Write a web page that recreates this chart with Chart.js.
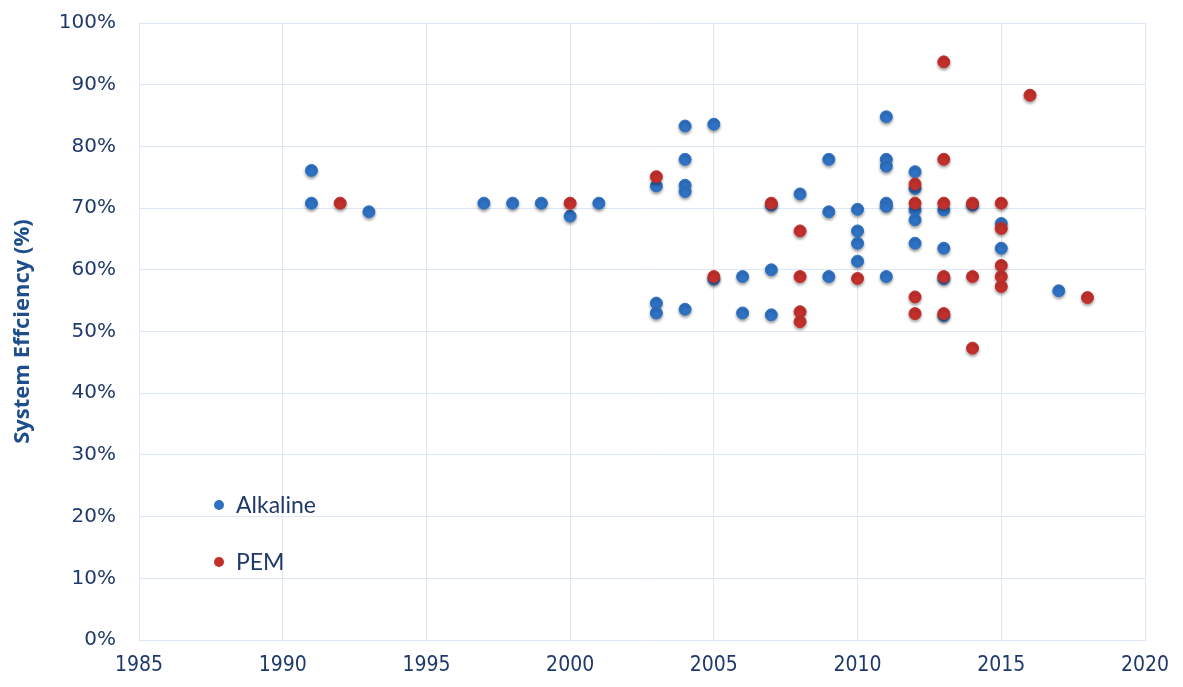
<!DOCTYPE html>
<html>

<head>
    <title>System Efficiency - Alkaline vs PEM</title>
    <script src="https://cdn.jsdelivr.net/npm/chart.js@4.4.2/dist/chart.umd.min.js"></script>
    <style>
        body {
            margin: 0;
            background: #ffffff;
        }

        .chartBox {
            width: 1183px;
            height: 687px;
        }
    </style>
</head>

<body>
    <div class="chartBox">
        <canvas id="efficiencyChart"></canvas>
    </div>
    <script>
        // dados (ano, eficiencia %)
        var alkalineYears = [1991, 1991, 1993, 1997, 1998, 1999, 2000, 2001,
            2003, 2003, 2003, 2004, 2004, 2004, 2004, 2004, 2005, 2005, 2006, 2006,
            2007, 2007, 2007, 2008, 2009, 2009, 2009, 2010, 2010, 2010, 2010,
            2011, 2011, 2011, 2011, 2011, 2011, 2012, 2012, 2012, 2012, 2012,
            2013, 2013, 2013, 2013, 2014, 2015, 2015, 2017];
        var alkalineEff = [76.1, 70.8, 69.4, 70.8, 70.8, 70.8, 68.7, 70.8,
            73.6, 54.6, 53.0, 83.3, 77.9, 73.7, 72.7, 53.6, 83.6, 58.5, 58.9, 53.0,
            70.5, 60.0, 52.7, 72.3, 77.9, 69.4, 58.9, 69.8, 66.3, 64.3, 61.4,
            84.8, 77.9, 76.8, 70.8, 70.3, 58.9, 75.9, 73.2, 69.7, 68.1, 64.3,
            69.7, 63.5, 58.6, 52.6, 70.5, 67.5, 63.5, 56.6];

        var pemYears = [1992, 2000, 2003, 2005, 2007, 2008, 2008, 2008, 2008, 2010,
            2012, 2012, 2012, 2012, 2013, 2013, 2013, 2013, 2013,
            2014, 2014, 2014, 2015, 2015, 2015, 2015, 2015, 2016, 2018];
        var pemEff = [70.8, 70.8, 75.1, 58.9, 70.8, 66.3, 58.9, 53.2, 51.6, 58.6,
            73.9, 70.8, 55.6, 52.9, 93.7, 77.9, 70.8, 58.9, 52.9,
            70.8, 58.9, 47.3, 70.8, 66.7, 60.7, 58.9, 57.3, 88.3, 55.5];

        var seriesNames = ["Alkaline", "PEM"];
        var seriesColors = ["#2F72C4", "#C3302C"];

        var textColor = "#1F3A6A";
        var gridColor = "#DCE7F3";

        function toPoints(xs, ys) {
            return xs.map(function (x, i) { return { x: x, y: ys[i] }; });
        }

        // sombra embaixo das bolinhas
        var pointShadow = {
            id: "pointShadow",
            beforeDatasetsDraw: function (chart) {
                var ctx = chart.ctx;
                ctx.save();
                ctx.shadowColor = "rgba(0,0,0,0.35)";
                ctx.shadowBlur = 3;
                ctx.shadowOffsetX = 0;
                ctx.shadowOffsetY = 2;
            },
            afterDatasetsDraw: function (chart) {
                chart.ctx.restore();
            }
        };

        // legenda dentro da area do grafico
        var insideLegend = {
            id: "insideLegend",
            afterDraw: function (chart) {
                var ctx = chart.ctx;
                var rows = [505, 562];
                ctx.save();
                seriesNames.forEach(function (name, i) {
                    ctx.beginPath();
                    ctx.fillStyle = seriesColors[i];
                    ctx.arc(219, rows[i], 5, 0, Math.PI * 2);
                    ctx.fill();
                    ctx.fillStyle = textColor;
                    ctx.font = "23px Lato, 'Open Sans', sans-serif";
                    ctx.textBaseline = "middle";
                    ctx.textAlign = "left";
                    ctx.fillText(name, 236, rows[i] + 1);
                });
                ctx.restore();
            }
        };

        var ctx = document.getElementById("efficiencyChart").getContext("2d");
        var efficiencyChart = new Chart(ctx, {
            type: "scatter",
            data: {
                datasets: [{
                    label: seriesNames[0],
                    data: toPoints(alkalineYears, alkalineEff),
                    backgroundColor: seriesColors[0],
                    borderColor: seriesColors[0],
                    pointRadius: 6,
                    pointHoverRadius: 6,
                    order: 2
                }, {
                    label: seriesNames[1],
                    data: toPoints(pemYears, pemEff),
                    backgroundColor: seriesColors[1],
                    borderColor: seriesColors[1],
                    pointRadius: 6,
                    pointHoverRadius: 6,
                    order: 1
                }]
            },
            options: {
                responsive: true,
                maintainAspectRatio: false,
                animation: false,
                layout: {
                    autoPadding: false,
                    padding: { left: 0, right: 38, top: 23, bottom: 0 }
                },
                plugins: {
                    legend: { display: false },
                    tooltip: { enabled: false }
                },
                scales: {
                    x: {
                        type: "linear",
                        min: 1985,
                        max: 2020,
                        afterFit: function (s) {
                            s.height = 47;
                            s.paddingLeft = 0;
                            s.paddingRight = 0;
                        },
                        ticks: {
                            stepSize: 5,
                            padding: 13,
                            color: textColor,
                            font: { family: "'DejaVu Sans Condensed', 'Liberation Sans Narrow', Lato", size: 21 },
                            callback: function (v) { return String(v); }
                        },
                        grid: { color: gridColor, lineWidth: 1, drawTicks: false },
                        border: { color: gridColor }
                    },
                    y: {
                        min: 0,
                        max: 100,
                        afterFit: function (s) {
                            s.width = 139;
                            s.paddingTop = 0;
                            s.paddingBottom = 0;
                        },
                        ticks: {
                            stepSize: 10,
                            padding: 23,
                            color: textColor,
                            font: { family: "'DejaVu Sans'", size: 20 },
                            callback: function (v) { return v + "%"; }
                        },
                        title: {
                            display: true,
                            text: "System Effciency (%)",
                            color: "#1F4E8C",
                            font: { family: "'Open Sans'", size: 22, weight: "bold" },
                            padding: { top: 10, bottom: 0 }
                        },
                        grid: { color: gridColor, lineWidth: 1, drawTicks: false },
                        border: { color: gridColor }
                    }
                }
            },
            plugins: [pointShadow, insideLegend]
        });
    </script>
</body>

</html>
